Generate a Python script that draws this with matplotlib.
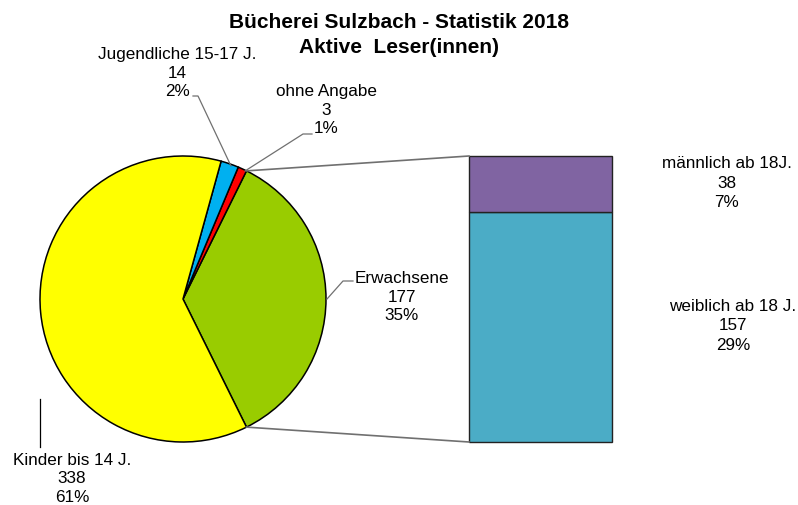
import matplotlib.pyplot as plt
import numpy as np

plt.rcParams['font.family'] = ['Liberation Sans', 'DejaVu Sans']

# Pie data (shares as shown on the chart, counts for labels)
pieLabels = ['Erwachsene', 'ohne Angabe', 'Jugendliche 15-17 J.', 'Kinder bis 14 J.']
pieCounts = [177, 3, 14, 338]
pieShares = [35, 1, 2, 61]
pieColors = ['#99CC00', '#FF0000', '#00B0F0', '#FFFF00']

# Bar data (split of Erwachsene)
barLabels = ['weiblich ab 18 J.', 'männlich ab 18J.']
barCounts = [157, 38]
barShares = [29, 7]
barColors = ['#4BACC6', '#8064A2']

fig = plt.figure(figsize=(7.98, 5.06), dpi=100)
ax = fig.add_axes([0, 0, 1, 1])

center = (183, 206)
radius = 143

# first slice (Erwachsene) centred on the right side
startAngle = -pieShares[0] / sum(pieShares) * 360 / 2
wedges, _ = ax.pie(pieShares, colors=pieColors, startangle=startAngle, counterclock=True,
                   center=center, radius=radius, frame=True,
                   wedgeprops=dict(edgecolor='black', linewidth=1.1))
ax.set_xlim(0, 798)
ax.set_ylim(0, 506)
ax.set_aspect('equal')
ax.axis('off')

# stacked bar, same height as the pie diameter
barX = 540.5
barW = 143
totalBar = sum(barShares)
bottom = center[1] - radius
for share, col in zip(barShares, barColors):
    h = share / totalBar * 2 * radius
    ax.bar(barX, h, width=barW, bottom=bottom, color=col, edgecolor='#222222', linewidth=1)
    bottom += h

# connector lines pie -> bar
lineColor = '#707070'
t1 = np.deg2rad(wedges[0].theta1)
t2 = np.deg2rad(wedges[0].theta2)
barLeft = barX - barW / 2
ax.plot([center[0] + radius * np.cos(t2), barLeft], [center[1] + radius * np.sin(t2), center[1] + radius],
        color=lineColor, linewidth=1.2)
ax.plot([center[0] + radius * np.cos(t1), barLeft], [center[1] + radius * np.sin(t1), center[1] - radius],
        color=lineColor, linewidth=1.2)

fs = 12.3

# labels for pie slices
pieLabelPos = [(402, 209), (326, 396), (177, 433), (72, 27)]
for (x, y), lab, cnt, sh in zip(pieLabelPos, pieLabels, pieCounts, pieShares):
    ax.text(x, y, f'{lab}\n{cnt}\n{sh}%', ha='center', va='center', fontsize=fs,
            linespacing=1.28)

# leader lines
ax.plot([353, 343, 327], [224, 224, 206], color=lineColor, linewidth=0.9)
ax.plot([312, 303, 245], [371, 371, 334], color=lineColor, linewidth=0.9)
ax.plot([193, 198, 231], [409, 409, 339], color=lineColor, linewidth=0.9)
ax.plot([40, 40], [106, 58], color='black', linewidth=0.9)

# labels for bar parts
barLabelPos = [(733, 180), (727, 323)]
for (x, y), lab, cnt, sh in zip(barLabelPos, barLabels, barCounts, barShares):
    ax.text(x, y, f'{lab}\n{cnt}\n{sh}%', ha='center', va='center', fontsize=fs,
            linespacing=1.35)

ax.text(399, 471, 'Bücherei Sulzbach - Statistik 2018\nAktive  Leser(innen)', ha='center', va='center',
        fontsize=15, fontweight='bold', linespacing=1.42)

fig.savefig('out.png', dpi=100)
